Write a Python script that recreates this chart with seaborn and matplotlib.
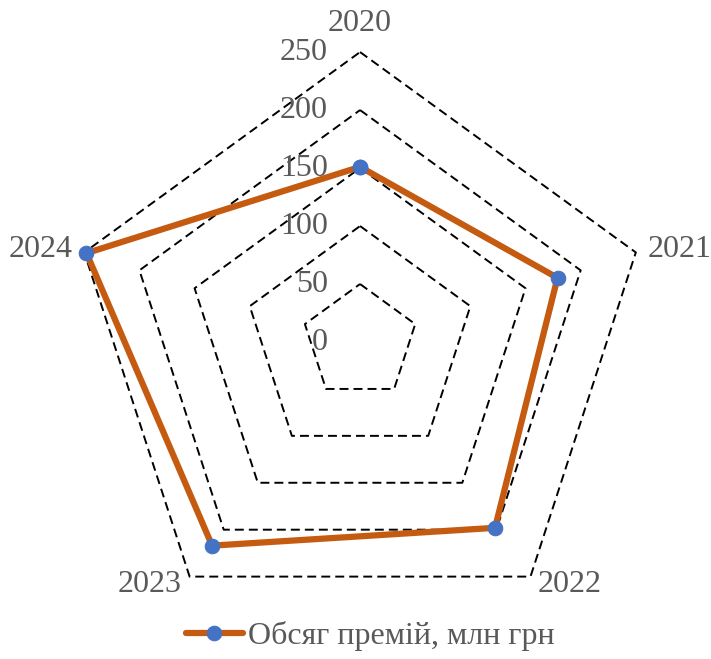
import numpy as np
import pandas as pd
import matplotlib
matplotlib.use("Agg")
import matplotlib.pyplot as plt
import matplotlib.transforms as mtransforms
import seaborn as sns

# Insurance premiums by year
years = ["2020", "2021", "2022", "2023", "2024"]
premiums = [151, 179, 198, 217, 248]
series_name = "Обсяг премій, млн грн"
radial_ticks = [0, 50, 100, 150, 200, 250]

sns.set_theme(style="white")
plt.rcParams["font.family"] = ["Liberation Serif", "DejaVu Serif"]

LINE_COLOR = "#C55A11"
MARKER_COLOR = "#4472C4"
TEXT_COLOR = "#595959"
FS = 23

fig = plt.figure(figsize=(7.11, 6.59), dpi=100)
ax = fig.add_axes([0.0985, 0.041, 0.8158, 0.880], projection="polar")
ax.set_theta_offset(np.pi / 2)
ax.set_theta_direction(-1)
ax.grid(False)
ax.spines["polar"].set_visible(False)
ax.set_xticks([])
ax.set_yticks([])
ax.set_facecolor("white")

n = len(years)
angles = np.linspace(0, 2 * np.pi, n, endpoint=False)
closed_angles = np.append(angles, 2 * np.pi)

# Pentagon gridlines
for r in radial_ticks[1:]:
    ax.plot(closed_angles, [r] * (n + 1), color="black", lw=1.4,
            linestyle=(0, (4.6, 2.6)), zorder=1)

# Data polygon (closed back to the first year)
df = pd.DataFrame({
    "angle": closed_angles,
    "value": premiums + [premiums[0]],
})
sns.lineplot(data=df, x="angle", y="value", sort=False, estimator=None, ax=ax,
             color=LINE_COLOR, linewidth=4.5, marker="o", markersize=10.5,
             markerfacecolor=MARKER_COLOR, markeredgecolor=MARKER_COLOR,
             label=series_name, zorder=3)
ax.set_xlabel("")
ax.set_ylabel("")
ax.set_xticks([])
ax.set_yticks([])
ax.set_ylim(0, radial_ticks[-1])
for ln in ax.lines:
    ln.set_clip_on(False)

# Radial value labels along the top axis
lab_tr = mtransforms.offset_copy(ax.transData, fig=fig, x=-32, y=0, units="dots")
for r in radial_ticks:
    ax.text(0, r, str(r), transform=lab_tr, ha="right", va="center",
            fontsize=FS, color=TEXT_COLOR)

# Category labels outside the outer ring
offsets = [(0, 29, "center"), (12, 3, "left"), (7, -8, "left"),
           (-8, -8, "right"), (-12, 3, "right")]
for ang, yr, (dx, dy, ha) in zip(angles, years, offsets):
    tr = mtransforms.offset_copy(ax.transData, fig=fig, x=dx, y=dy, units="dots")
    ax.text(ang, radial_ticks[-1], yr, transform=tr, ha=ha, va="center",
            fontsize=FS, color=TEXT_COLOR, clip_on=False)

ax.legend_.remove()
handles, labels = ax.get_legend_handles_labels()
fig.legend(handles, labels, loc="center", bbox_to_anchor=(370 / 711, 1 - 636 / 659),
           frameon=False, fontsize=FS, handlelength=1.8, handletextpad=0.15,
           labelcolor=TEXT_COLOR)

fig.savefig("out.png", dpi=100, facecolor="white")
